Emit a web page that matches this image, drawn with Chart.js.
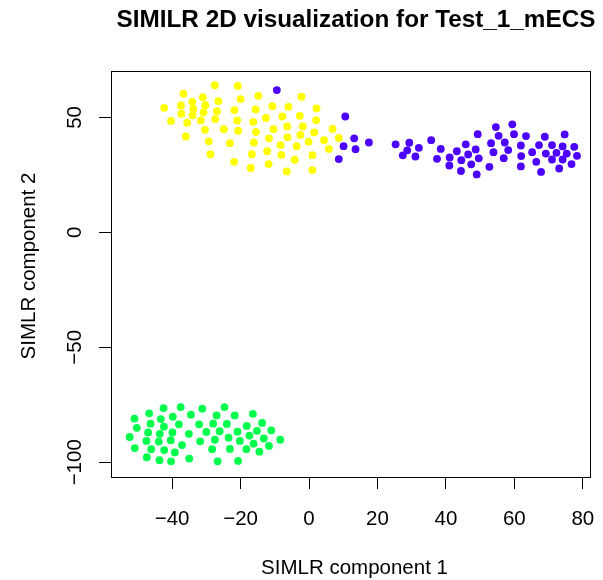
<!DOCTYPE html>
<html>
<head>
<meta charset="utf-8">
<script src="https://cdn.jsdelivr.net/npm/chart.js@4"></script>
<style>
  html, body { margin: 0; padding: 0; background: #fff; }
  canvas { display: block; }
</style>
</head>
<body>
<canvas id="myChart" width="603" height="580"></canvas>
<script>
const titleText = 'SIMILR 2D visualization for Test_1_mECS'
const xTitle = 'SIMLR component 1'
const yTitle = 'SIMLR component 2'

const xTicks = [-40, -20, 0, 20, 40, 60, 80]
const yTicks = [-100, -50, 0, 50]

// cluster 1 (yellow)
const cluster1 = [
  [-27.5, 64.0], [-20.8, 63.7], [-36.7, 60.3], [-31.0, 58.8], [-34.1, 56.8], [-26.5, 57.1],
  [-20.0, 58.0], [-14.8, 59.4], [-42.3, 54.2], [-37.4, 55.2], [-33.8, 53.7], [-30.3, 55.3],
  [-26.9, 52.7], [-21.8, 53.2], [-15.6, 53.5], [-37.3, 51.6], [-34.0, 50.9], [-30.8, 52.2],
  [-40.3, 48.5], [-35.6, 47.7], [-31.6, 48.7], [-27.4, 49.3], [-21.0, 48.7], [-16.3, 48.1],
  [-30.4, 44.6], [-24.9, 44.9], [-20.7, 44.2], [-15.5, 43.7], [-36.0, 41.7], [-29.3, 39.6],
  [-23.1, 38.8], [-16.1, 39.1], [-28.8, 34.0], [-16.7, 34.0], [-21.9, 30.7], [-17.0, 28.0],
  [-2.2, 59.0], [-10.7, 54.9], [-6.0, 54.6], [2.2, 53.9], [-12.6, 49.8], [-7.8, 50.4],
  [-2.7, 50.7], [2.1, 48.8], [-10.4, 44.9], [-6.4, 46.1], [-1.8, 46.1], [1.5, 43.5],
  [6.9, 45.0], [-11.7, 40.9], [-6.3, 41.4], [-2.5, 42.4], [-0.1, 39.4], [4.4, 40.1],
  [8.7, 41.1], [-8.3, 38.0], [-3.6, 37.5], [5.8, 36.3], [-12.2, 35.3], [-8.1, 33.7],
  [1.0, 33.6], [-4.2, 31.6], [-11.8, 29.7], [-6.5, 26.5], [1.0, 27.1]
]

// cluster 2 (purple)
const cluster2 = [
  [-9.4, 61.9], [10.6, 50.4], [13.2, 40.9], [17.5, 39.1], [10.1, 37.5], [13.6, 36.2],
  [8.7, 31.9], [25.3, 38.3], [29.3, 39.0], [32.1, 36.8], [28.7, 35.7], [27.4, 33.5],
  [31.1, 33.0], [35.7, 40.1], [38.5, 36.3], [37.4, 32.0], [41.1, 32.6], [41.0, 29.1],
  [43.2, 35.3], [45.8, 38.3], [44.5, 31.4], [46.5, 33.9], [48.7, 36.1], [49.3, 42.7],
  [49.6, 32.2], [47.4, 29.6], [44.4, 26.7], [49.0, 25.2], [59.4, 47.0], [54.6, 45.8],
  [59.9, 42.7], [55.4, 42.0], [63.4, 41.9], [68.9, 41.6], [74.7, 42.6], [53.2, 38.8],
  [57.2, 39.1], [61.9, 37.8], [67.2, 38.0], [71.0, 38.0], [74.1, 37.4], [77.5, 37.2],
  [53.9, 34.9], [58.2, 35.8], [65.2, 34.9], [69.2, 34.3], [72.3, 34.6], [75.3, 34.3],
  [78.3, 33.3], [56.9, 32.3], [62.0, 33.2], [66.4, 30.7], [71.0, 31.7], [74.1, 31.7],
  [52.7, 28.5], [61.9, 28.7], [67.8, 26.3], [73.1, 27.8], [76.7, 29.7]
]

// cluster 3 (green)
const cluster3 = [
  [-42.5, -76.4], [-37.5, -76.0], [-31.2, -76.7], [-46.7, -78.7], [-51.0, -81.0], [-43.3, -81.2],
  [-39.8, -80.2], [-34.5, -79.3], [-46.3, -83.2], [-42.4, -84.5], [-38.0, -83.5], [-32.1, -83.5],
  [-50.3, -85.0], [-47.0, -87.0], [-43.6, -87.6], [-39.9, -87.0], [-35.1, -87.6], [-52.4, -89.0],
  [-47.5, -90.7], [-43.9, -91.0], [-40.4, -90.4], [-37.1, -92.5], [-31.8, -90.9], [-50.9, -93.8],
  [-46.1, -94.3], [-42.3, -94.7], [-39.2, -95.7], [-47.4, -97.8], [-43.7, -99.1], [-40.3, -99.6],
  [-35.0, -98.4], [-24.7, -76.0], [-27.0, -79.6], [-21.7, -79.6], [-16.4, -78.9], [-28.0, -83.2],
  [-24.0, -83.3], [-13.7, -82.9], [-30.0, -86.8], [-26.1, -86.5], [-20.9, -86.7], [-18.2, -84.2],
  [-15.2, -86.3], [-11.0, -86.1], [-27.5, -90.2], [-23.5, -89.3], [-20.2, -90.7], [-17.4, -88.4],
  [-13.2, -89.6], [-16.2, -91.9], [-8.4, -90.2], [-28.3, -94.3], [-23.1, -94.2], [-18.3, -94.3],
  [-11.7, -92.9], [-14.5, -95.4], [-26.7, -99.6], [-20.7, -99.4]
]

const toXY = arr => arr.map(([x, y]) => ({ x, y }))
const fontFamily = '"Liberation Sans", Arial, Helvetica, sans-serif'
const fmt = v => String(v).replace('-', '\u2212')

const makeSet = (data, color) => ({
  data: toXY(data),
  backgroundColor: color,
  borderWidth: 0,
  pointRadius: 3.9,
  pointHoverRadius: 3.9
})

// box, tick labels and titles, R style
const rAxes = {
  id: 'rAxes',
  afterDraw(chart) {
    const { ctx, chartArea: a, scales: { x, y } } = chart
    ctx.save()
    ctx.strokeStyle = '#000'
    ctx.lineWidth = 1
    ctx.strokeRect(Math.round(a.left) + 0.5, Math.round(a.top) + 0.5,
      Math.round(a.right - a.left), Math.round(a.bottom - a.top))

    ctx.fillStyle = '#000'
    ctx.font = '20.5px ' + fontFamily
    ctx.textAlign = 'center'
    ctx.textBaseline = 'alphabetic'
    xTicks.forEach(v => ctx.fillText(fmt(v), x.getPixelForValue(v), 525))
    ctx.fillText(xTitle, 354.5, 574)

    yTicks.forEach(v => {
      ctx.save()
      ctx.translate(81, y.getPixelForValue(v))
      ctx.rotate(-Math.PI / 2)
      ctx.fillText(fmt(v), 0, 0)
      ctx.restore()
    })
    ctx.save()
    ctx.translate(35, 266)
    ctx.rotate(-Math.PI / 2)
    ctx.fillText(yTitle, 0, 0)
    ctx.restore()

    ctx.font = 'bold 24.3px ' + fontFamily
    ctx.fillText(titleText, 356, 27)
    ctx.restore()
  }
}

const axisOpts = (min, max, ticks) => ({
  type: 'linear',
  min, max,
  afterBuildTicks: s => { s.ticks = ticks.map(v => ({ value: v })) },
  ticks: { display: false },
  grid: { drawOnChartArea: false, drawTicks: true, tickLength: 12, tickColor: '#000', tickWidth: 1 },
  border: { display: false }
})

const chart = new Chart('myChart', {
  type: 'scatter',
  data: {
    datasets: [
      makeSet(cluster1, '#FFFF00'),
      makeSet(cluster2, '#4C00FF'),
      makeSet(cluster3, '#00FF4D')
    ]
  },
  options: {
    responsive: false,
    animation: false,
    layout: { padding: { left: 99, right: 13, top: 71, bottom: 91 } },
    plugins: { legend: { display: false }, tooltip: { enabled: false } },
    scales: {
      x: axisOpts(-57.85, 82.1, xTicks),
      y: axisOpts(-106.4, 70.2, yTicks)
    }
  },
  plugins: [rAxes]
})
</script>
</body>
</html>
